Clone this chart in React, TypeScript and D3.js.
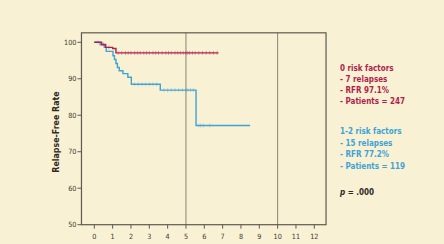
import React from "react";
import * as d3 from "d3";

const xTicks = [0, 1, 2, 3, 4, 5, 6, 7, 8, 9, 10, 11, 12];
const yTicks = [50, 60, 70, 80, 90, 100];
const refLines = [5, 10];

const redTimes = [0, 0.4, 0.62, 1.0, 1.18];
const redValues = [100, 99.4, 98.6, 98.3, 97.1];
const redEnd = 6.77;
const redCensor = [0.5, 0.8, 1.3, 1.5, 1.7, 1.85, 2.0, 2.2, 2.35, 2.5, 2.7, 2.85, 3.0, 3.2, 3.35, 3.5, 3.7, 3.9, 4.05, 4.2, 4.4, 4.55, 4.7, 4.85, 5.0, 5.1, 5.2, 5.35, 5.5, 5.7, 5.9, 6.1, 6.3, 6.5, 6.7];

const blueTimes = [0, 0.32, 0.55, 0.65, 1.02, 1.1, 1.18, 1.26, 1.36, 1.56, 1.83, 2.02, 3.6, 5.55];
const blueValues = [100, 99.3, 98.6, 97.5, 96.3, 95.3, 94.2, 93.1, 92.2, 91.4, 90.4, 88.5, 86.9, 77.2];
const blueEnd = 8.5;
const blueCensor = [0.2, 2.2, 2.4, 2.6, 2.8, 3.0, 3.2, 3.4, 3.8, 4.0, 4.2, 4.4, 4.6, 4.8, 5.0, 5.1, 5.25, 5.4, 5.7, 5.8, 5.95, 6.3];

const legend0 = ["0 risk factors", "- 7 relapses", "- RFR 97.1%", "- Patients = 247"];
const legend1 = ["1-2 risk factors", "- 15 relapses", "- RFR 77.2%", "- Patients = 119"];

const RED = "#ae1f4c";
const BLUE = "#3fa3d5";
const BG = "#f9f1d4";
const AXIS = "#5e5a52";
const FONT = "'Liberation Sans Narrow', 'DejaVu Sans Condensed', 'Arial Narrow', sans-serif";

function stepValue(times: number[], values: number[], t: number) {
  let v = values[0];
  for (let i = 0; i < times.length; i++) if (times[i] <= t) v = values[i];
  return v;
}

export default function App() {
  const x = d3.scaleLinear().domain([0, 12]).range([94.3, 314.3]);
  const y = d3.scaleLinear().domain([50, 100]).range([224.7, 42.3]);
  const left = x(-0.7);
  const right = x(12.64);
  const top = y(102.6);
  const bottom = y(50);

  const line = d3
    .line<[number, number]>()
    .x((d) => x(d[0]))
    .y((d) => y(d[1]))
    .curve(d3.curveStepAfter);

  const redPts: [number, number][] = redTimes.map((t, i) => [t, redValues[i]] as [number, number]);
  redPts.push([redEnd, redValues[redValues.length - 1]]);
  const bluePts: [number, number][] = blueTimes.map((t, i) => [t, blueValues[i]] as [number, number]);
  bluePts.push([blueEnd, blueValues[blueValues.length - 1]]);

  return (
    <svg width={444} height={244} style={{ position: "absolute", left: 0, top: 0 }}>
      <rect x={0} y={0} width={444} height={244} fill={BG} />
      {refLines.map((r) => (
        <line key={r} x1={x(r)} x2={x(r)} y1={top} y2={bottom} stroke="#8a8478" strokeWidth={1} />
      ))}
      {redCensor.map((t, i) => {
        const v = stepValue(redTimes, redValues, t);
        return <line key={"rc" + i} x1={x(t)} x2={x(t)} y1={y(v) - 2} y2={y(v) + 2} stroke={RED} strokeOpacity={0.4} strokeWidth={1} />;
      })}
      {blueCensor.map((t, i) => {
        const v = stepValue(blueTimes, blueValues, t);
        return <line key={"bc" + i} x1={x(t)} x2={x(t)} y1={y(v) - 2} y2={y(v) + 2} stroke={BLUE} strokeOpacity={0.35} strokeWidth={1} />;
      })}
      <path d={line(bluePts) || ""} fill="none" stroke={BLUE} strokeWidth={1.4} />
      <path d={line(redPts) || ""} fill="none" stroke={RED} strokeWidth={1.4} />
      <rect x={left} y={top} width={right - left} height={bottom - top} fill="none" stroke={AXIS} strokeWidth={1.2} />
      {yTicks.map((t) => (
        <g key={"y" + t}>
          <line x1={left - 4} x2={left} y1={y(t)} y2={y(t)} stroke={AXIS} strokeWidth={1} />
          <text x={left - 5} y={y(t) + 2.5} fontSize={7.2} textAnchor="end" fill="#3e3a33" fontFamily={FONT}>
            {t}
          </text>
        </g>
      ))}
      {xTicks.map((t) => (
        <g key={"x" + t}>
          <line x1={x(t)} x2={x(t)} y1={bottom} y2={bottom + 4} stroke={AXIS} strokeWidth={1} />
          <text x={x(t)} y={239} fontSize={7.2} textAnchor="middle" fill="#3e3a33" fontFamily={FONT}>
            {t}
          </text>
        </g>
      ))}
      <text
        transform={`translate(59,132) rotate(-90)`}
        textAnchor="middle"
        fontSize={8.8}
        fontWeight="bold"
        fill="#2e2a24"
        fontFamily={FONT}
      >
        Relapse-Free Rate
      </text>
      {legend0.map((s, i) => (
        <text key={"l0" + i} x={340} y={71 + i * 11} fontSize={8} fontWeight="bold" fill={RED} fontFamily={FONT}>
          {s}
        </text>
      ))}
      {legend1.map((s, i) => (
        <text key={"l1" + i} x={340} y={134 + i * 11.5} fontSize={8} fontWeight="bold" fill={BLUE} fontFamily={FONT}>
          {s}
        </text>
      ))}
      <text x={340} y={195} fontSize={8} fontWeight="bold" fill="#2e2a24" fontFamily={FONT}>
        <tspan fontStyle="italic">p</tspan> = .000
      </text>
    </svg>
  );
}
